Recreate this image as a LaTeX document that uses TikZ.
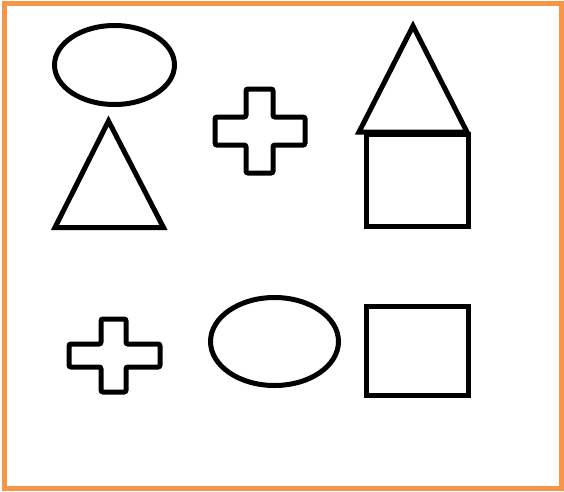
\documentclass[tikz,border=0pt]{standalone}
\definecolor{frameorange}{HTML}{F79646}
\begin{document}
\begin{tikzpicture}[x=1pt,y=-1pt,
  outlineshape/.style={draw=black,line width=5pt,line join=miter},
  crossshape/.style={draw=black,line width=5pt,rounded corners=2pt}]
\useasboundingbox (0,0) rectangle (564,491);
\fill[white] (0,0) rectangle (564,491);
\draw[frameorange,line width=5pt] (4.5,3) rectangle (561.5,488.5);
% top-left ellipse and triangle
\draw[outlineshape] (114.5,65) ellipse [x radius=60, y radius=39.5];
\draw[outlineshape] (108.5,121) -- (163.5,227.5) -- (55,227.5) -- cycle;
% top cross
\draw[crossshape] (246,89) -- (273,89) -- (273,117) -- (305,117) -- (305,145) -- (273,145) -- (273,173) -- (246,173) -- (246,145) -- (215,145) -- (215,117) -- (246,117) -- cycle;
% house
\draw[outlineshape] (366,134.5) rectangle (468,226);
\draw[outlineshape] (413,26) -- (467,132) -- (359,132) -- cycle;
% bottom cross
\draw[crossshape] (101,319) -- (126,319) -- (126,344) -- (160,344) -- (160,367) -- (126,367) -- (126,392) -- (101,392) -- (101,367) -- (69,367) -- (69,344) -- (101,344) -- cycle;
% bottom ellipse
\draw[outlineshape] (274.5,341.5) ellipse [x radius=64, y radius=44];
% bottom square
\draw[outlineshape] (366,306) rectangle (468,395);
\end{tikzpicture}
\end{document}
